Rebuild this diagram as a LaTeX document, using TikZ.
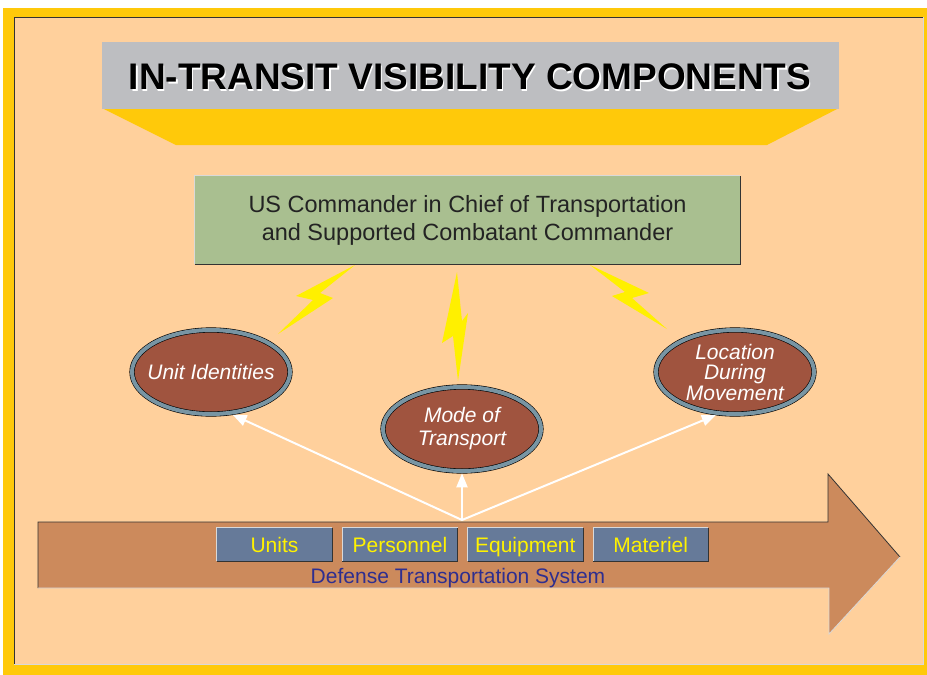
\documentclass[tikz,border=0pt]{standalone}
\usepackage{fontspec}
\setmainfont{Liberation Sans}
\usetikzlibrary{shapes.geometric, arrows.meta, positioning}

\definecolor{frameyellow}{HTML}{FFC90A}
\definecolor{peach}{HTML}{FFD09C}
\definecolor{bannergrey}{HTML}{BDBEC1}
\definecolor{cincgreen}{HTML}{A9BF90}
\definecolor{boltyellow}{HTML}{FFF000}
\definecolor{ringblue}{HTML}{7895A3}
\definecolor{topicbrown}{HTML}{A0543F}
\definecolor{dtsbrown}{HTML}{CC8A5C}
\definecolor{slate}{HTML}{667A99}
\definecolor{navy}{HTML}{2E2E8F}
\definecolor{inkgrey}{HTML}{232323}

\begin{document}
\begin{tikzpicture}[
		x=1pt, y=-1pt,
		cincbox/.style={
			rectangle,
			fill=cincgreen,
			minimum width=545,
			minimum height=88,
			align=center,
			text=inkgrey,
			font=\fontsize{23.5}{28}\selectfont
		},
		topic/.style={
			ellipse,
			draw=black,
			line width=0.6pt,
			double=ringblue,
			double distance=4pt,
			fill=topicbrown,
			text=white,
			align=center,
			inner xsep=-10pt,
			inner ysep=-4pt,
			minimum width=158,
			minimum height=84
		},
		item/.style={
			rectangle,
			fill=slate,
			text=yellow,
			minimum width=115,
			minimum height=33,
			inner sep=0pt,
			text height=15pt,
			text depth=0pt,
			font=\fontsize{21}{21}\selectfont
		},
		bolt/.style={fill=boltyellow},
		darkedge/.style={draw=black!80, line width=0.8pt},
		lightedge/.style={draw=white!85!black, line width=0.8pt},
		conn/.style={
			-{Triangle[width=11pt, length=14pt]},
			draw=white,
			line width=2pt
		}
		]
		
		\useasboundingbox (0,0) rectangle (927,675);
		
		% Frame
		\fill[white] (0,0) rectangle (927,675);
		\fill[frameyellow] (3,8) rectangle (927,675);
		\fill[peach] (14,17) rectangle (923,664);
		\draw[darkedge] (14,664) -- (14,17) -- (923,17);
		\draw[lightedge] (14,664) -- (923,664) -- (923,17);
		
		% Title banner
		\fill[frameyellow] (102,108) -- (839,108) -- (767,145) -- (176,145) -- cycle;
		\node (banner) [fill=bannergrey, minimum width=737, minimum height=67, inner sep=0pt] at (470.5,75.5) {};
		\node (titleshadow) [text=white, font=\bfseries\fontsize{37}{37}\selectfont] at (471.3,78.3) {IN-TRANSIT VISIBILITY COMPONENTS};
		\node (title) [text=black, font=\bfseries\fontsize{37}{37}\selectfont] at (470,77) {IN-TRANSIT VISIBILITY COMPONENTS};
		
		% Commander box
		\node (cinc) [cincbox] at (467.5,220) {US Commander in Chief of Transportation\\and Supported Combatant Commander};
		\draw[lightedge] (cinc.south west) -- (cinc.north west) -- (cinc.north east);
		\draw[darkedge] (cinc.south west) -- (cinc.south east) -- (cinc.north east);
		
		% Lightning bolts
		\fill[bolt] (355,265) -- (296,296) -- (313,300) -- (278,334) -- (333,298) -- (320,293) -- cycle;
		\fill[bolt] (457,272) -- (442,343) -- (453,336) -- (458,381) -- (468,313) -- (462,321) -- cycle;
		\fill[bolt] (590,265) -- (649,293) -- (632,298) -- (667,329) -- (612,296) -- (625,292) -- cycle;
		
		% Visibility components
		\node (unit) [topic, font=\itshape\fontsize{21}{21}\selectfont] at (211,372) {Unit Identities};
		\node (mode) [topic, font=\itshape\fontsize{21}{23}\selectfont] at (462,429) {Mode of\\Transport};
		\node (loc) [topic, font=\itshape\fontsize{21}{20.5}\selectfont] at (735,372) {Location\\During\\Movement};
		
		% Defense Transportation System arrow
		\fill[dtsbrown] (38,522) -- (828,522) -- (828,474) -- (900,557) -- (829,634) -- (829,588) -- (38,588) -- cycle;
		\draw[darkedge] (38,588) -- (38,522) -- (828,522) -- (828,474) -- (900,557);
		\draw[lightedge] (900,557) -- (829,634) -- (829,588) -- (38,588);
		
		\node (units) [item] at (274.5,544.5) {Units};
		\node (pers) [item, right=10pt of units] {Personnel};
		\node (equip) [item, right=10pt of pers] {Equipment};
		\node (mat) [item, right=10pt of equip] {Materiel};
		\foreach \b in {units, pers, equip, mat} {
			\draw[lightedge] (\b.south west) -- (\b.north west) -- (\b.north east);
			\draw[darkedge] (\b.south west) -- (\b.south east) -- (\b.north east);
		}
		\node (dts) [anchor=base, text=navy, font=\fontsize{21}{21}\selectfont] at (458,583) {Defense Transportation System};
		
		% Connection arrows
		\coordinate (src) at (462,520);
		\draw [conn] (src) -- ([shift={(0,2)}]unit.-62);
		\draw [conn] (src) -- ([shift={(0,2)}]mode.south);
		\draw [conn] (src) -- ([shift={(0,2)}]loc.-115);
		
	\end{tikzpicture}
\end{document}
